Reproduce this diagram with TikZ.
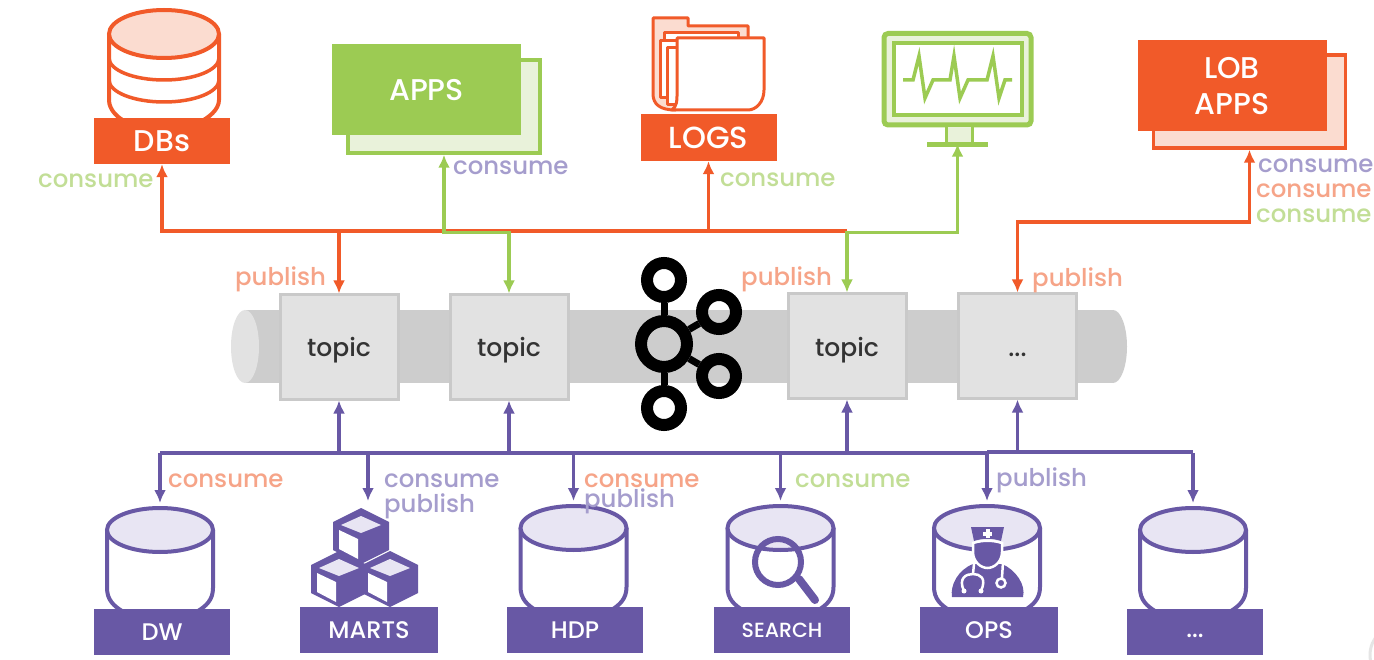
\documentclass[tikz,border=0pt]{standalone}
\usepackage{fontspec}
\setmainfont{Poppins Medium}
\usetikzlibrary{arrows.meta,shapes.geometric}
\definecolor{orangeC}{HTML}{F15A29}
\definecolor{greenC}{HTML}{9CCB53}
\definecolor{purpleC}{HTML}{6858A5}
\definecolor{orangeL}{HTML}{F6A488}
\definecolor{greenL}{HTML}{C2DE96}
\definecolor{purpleL}{HTML}{A59DCD}
\definecolor{orangeF}{HTML}{FBDCD0}
\definecolor{greenF}{HTML}{E9F2DA}
\definecolor{purpleF}{HTML}{E8E5F3}
\definecolor{pipeC}{HTML}{CDCDCD}
\definecolor{topicC}{HTML}{E2E2E2}
\definecolor{topicE}{HTML}{C9C9C9}
\tikzset{
    tag/.style={minimum width=136pt,minimum height=46pt,inner sep=0pt,text=white,font=\fontsize{24}{28}\selectfont},
    sheet/.style={minimum width=189pt,minimum height=91pt,inner sep=0pt,text=white,align=center,font=\fontsize{30}{36}\selectfont},
    backsheet/.style={minimum width=192pt,minimum height=93pt,inner sep=0pt,line width=3.5pt},
    topicbox/.style={fill=topicC,draw=topicE,line width=3pt,minimum width=118pt,minimum height=104pt,inner sep=0pt,text=black!80,text height=24pt,text depth=4pt,font=\fontsize{25}{30}\selectfont},
    lab/.style={anchor=west,inner sep=0pt,font=\fontsize{24.4}{28}\selectfont},
    ring/.style={circle,draw=black,inner sep=0pt,line width=12pt},
    cyltop/.style={ellipse,draw=purpleC,fill=purpleF,line width=4pt,minimum width=106pt,minimum height=44pt,inner sep=0pt},
    oline/.style={draw=orangeC,line width=3.2pt},
    gline/.style={draw=greenC,line width=3.2pt},
    pline/.style={draw=purpleC,line width=3.5pt},
    tip/.style={arrows={-{Latex[length=13pt,width=12pt]}}},
    twotip/.style={arrows={{Latex[length=13pt,width=12pt]}-{Latex[length=13pt,width=12pt]}}},
}
\begin{document}
\begin{tikzpicture}[x=1pt,y=-1pt]
    \useasboundingbox (0,0) rectangle (1374,660);
    \fill[white] (0,0) rectangle (1374,660);
    \begin{scope}
        \clip (0,0) rectangle (1374,660);
        \draw[black!10,line width=3pt] (1400,655) circle (30);
    \end{scope}
    % pipe
    \fill[pipeC] (245,310) rectangle (1113,383);
    \fill[pipeC] (1113,346.5) ellipse (14 and 36.5);
    \fill[topicC] (245,346.5) ellipse (14 and 36.5);
    % topics
    \begin{scope}[every node/.style={topicbox}]
        \node (T1) at (339,347) {topic};
        \node (T2) at (509,347) {topic};
        \node (T3) at (847,346) {topic};
        \node (T4) at (1017.5,346) {...};
    \end{scope}
    % kafka logo
    \node[ring,minimum size=46pt] (hub) at (664,344) {};
    \begin{scope}[every node/.style={ring,minimum size=34pt}]
        \node (K1) at (664,280) {};
        \node (K2) at (719,312) {};
        \node (K3) at (719,376) {};
        \node (K4) at (664,408) {};
    \end{scope}
    \foreach \k in {K1,K2,K3,K4}
        \draw[line width=7pt] (hub) -- (\k);
    % top row
    \draw[orangeC,line width=4pt,fill=white] (109,34) -- (109,100) .. controls (109,110) and (118,118) .. (126,122) -- (200,122) .. controls (208,118) and (219,110) .. (219,100) -- (219,34);
    \draw[orangeC,line width=3.5pt] (109,58) arc[start angle=180,end angle=0,x radius=55,y radius=22];
    \draw[orangeC,line width=3.5pt] (109,80) arc[start angle=180,end angle=0,x radius=55,y radius=22];
    \node[ellipse,draw=orangeC,fill=orangeF,line width=4pt,minimum width=110pt,minimum height=48pt,inner sep=0pt] (DBtop) at (164,34) {};
    \node[tag,fill=orangeC,font=\fontsize{30}{35}\selectfont] (DBs) at (162,141) {DBs};
    \node[backsheet,draw=greenC,fill=greenF] (APPSb) at (444,106.5) {};
    \node[sheet,fill=greenC] (APPS) at (426.5,90) {APPS};
    % folder
    \begin{scope}[draw=orangeC,line width=3pt,line join=round]
        \draw[fill=orangeF] (675,110) .. controls (660,110) and (653,104) .. (653,94) -- (653,18) -- (688,18) -- (688,26) -- (748,26) -- (748,60) -- cycle;
        \draw[fill=white] (664,60) -- (664,33) -- (738,33) -- (738,60) -- cycle;
        \draw[fill=white] (660,98) -- (660,41) -- (680,41) -- (680,98) -- cycle;
        \draw[fill=white] (667,105) -- (667,48) -- (680,48) -- (680,105) -- cycle;
        \draw[fill=white] (677,38) -- (764,38) -- (764,90) .. controls (764,102) and (756,110) .. (748,110) -- (672,110) .. controls (677,106) and (677,100) .. (677,96) -- cycle;
    \end{scope}
    \node[tag,fill=orangeC,minimum height=47pt,font=\fontsize{30.5}{35}\selectfont] (LOGS) at (708.5,137.5) {LOGS};
    % monitor
    \draw[greenC,line width=5pt,rounded corners=4pt,fill=greenF] (884,33.5) rectangle (1031,125);
    \draw[greenC,line width=4.5pt,fill=white] (894,43) rectangle (1022,115);
    \draw[greenC,line width=3pt,fill=greenF] (946,126) rectangle (972,145);
    \node[fill=greenC,minimum width=61pt,minimum height=5pt,inner sep=0pt] (base) at (957.5,145) {};
    \draw[greenC,line width=3.5pt,line join=miter] (903,80) -- (913,80) -- (919,56) -- (925,98) -- (933,80) -- (950,80) -- (954,56) -- (960,98) -- (968,80) -- (987,80) -- (993,56) -- (999,98) -- (1005,80) -- (1012,80);
    \node[backsheet,draw=orangeC,fill=orangeF] (LOBb) at (1249.5,101.5) {};
    \node[sheet,fill=orangeC] (LOB) at (1232,86) {LOB\\APPS};
    % bottom row
    \foreach \nm/\cx/\ct/\cb in {DW/160/508/608,HDP/573.5/506/607,SEARCH/780.5/506/607,OPS/987/506/607,MORE/1193/508/608} {
        \draw[purpleC,line width=4pt,fill=white] (\cx-53,\ct+22) -- (\cx-53,\cb-20) .. controls (\cx-53,\cb-8) and (\cx-46,\cb-2) .. (\cx-38,\cb+3) -- (\cx+38,\cb+3) .. controls (\cx+46,\cb-2) and (\cx+53,\cb-8) .. (\cx+53,\cb-20) -- (\cx+53,\ct+22);
        \node[cyltop] (\nm-top) at (\cx,\ct+22) {};
    }
    \node[tag,fill=purpleC] (DW) at (162,632) {DW};
    \node[tag,fill=purpleC,minimum width=138pt] (MARTS) at (369,630) {MARTS};
    \node[tag,fill=purpleC] (HDP) at (575,630) {HDP};
    \node[tag,fill=purpleC,font=\fontsize{20.5}{24}\selectfont] (SEARCH) at (782,630) {SEARCH};
    \node[tag,fill=purpleC,minimum width=138pt] (OPS) at (989,630) {OPS};
    \node[tag,fill=purpleC,text height=10pt,text depth=0pt] (MORE) at (1195,632) {...};
    % cubes
    \foreach \cx/\cy in {361/508,339/551,390/551} {
        \fill[purpleC] (\cx,\cy) -- (\cx+28,\cy+14) -- (\cx+28,\cy+42) -- (\cx,\cy+56) -- (\cx-28,\cy+42) -- (\cx-28,\cy+14) -- cycle;
        \fill[purpleF] (\cx,\cy+8) -- (\cx+20,\cy+17) -- (\cx,\cy+25) -- (\cx-20,\cy+17) -- cycle;
        \fill[white] (\cx-22,\cy+22) -- (\cx-3,\cy+31) -- (\cx-3,\cy+51) -- (\cx-22,\cy+41) -- cycle;
    }
    % search icon
    \draw[purpleC,line width=6pt] (778,562) ellipse (23 and 23);
    \draw[purpleC,line width=8pt,line cap=round] (799,579) -- (815,600);
    % doctor icon
    \fill[purpleC] (952,597) .. controls (950,585) and (958,570) .. (973,564) -- (1002,564) .. controls (1016,570) and (1026,585) .. (1023,597) -- cycle;
    \fill[purpleC] (971,527) -- (1004,527) -- (1001,541) .. controls (992,538) and (983,538) .. (974,541) -- cycle;
    \fill[white] (985.5,529) rectangle (989.5,538);
    \fill[white] (983,532) rectangle (992,535.5);
    \draw[white,line width=2.5pt,fill=purpleC] (973,543) .. controls (983,540) and (992,540) .. (1002,543) -- (1002,552) .. controls (1002,562) and (994,568) .. (987.5,568) .. controls (981,568) and (973,562) .. (973,552) -- cycle;
    \draw[white,line width=2.5pt] (974,564) -- (973,574);
    \draw[white,line width=2.5pt] (964,591) .. controls (958,578) and (966,574) .. (973,574) .. controls (980,574) and (987,578) .. (981,591);
    \fill[white] (964,591) circle (2.5);
    \fill[white] (981,591) circle (2.5);
    \draw[white,line width=2.5pt] (1003,562) -- (1002,578);
    \draw[white,line width=2.5pt,fill=purpleC] (1001,583) circle (4.5);
    % connectors above the topics
    \coordinate (topbus) at (0,231);
    \coordinate (greenbus) at (0,232.5);
    \coordinate (lobbus) at (0,222);
    \draw[oline,twotip] (DBs.south) |- (T1.north |- topbus) -- (T1.north);
    \draw[oline] (T1.north |- topbus) -- (T3.north |- topbus);
    \draw[oline,tip] (LOGS.south |- topbus) -- (LOGS.south);
    \draw[oline,twotip] (T4.north) |- (LOBb.south |- lobbus) -- (LOBb.south);
    \draw[gline,twotip] (T2.north) -- (T2.north |- greenbus) -| (APPSb.south);
    \draw[gline,twotip] (T3.north) -- (T3.north |- greenbus) -| ([yshift=4pt]base.south);
    % connectors below the topics
    \coordinate (lowbus) at (0,453);
    \coordinate (MARTSin) at (368,501);
    \foreach \t in {T1,T2,T3,T4}
        \draw[pline,tip] (\t.south |- lowbus) -- (\t.south);
    \draw[pline] (DW-top.north |- lowbus) -- (OPS-top.north |- lowbus);
    \draw[pline] (OPS-top.north |- 0,452) -- (MORE-top.north |- 0,452);
    \draw[pline,tip] (MARTSin |- lowbus) -- (MARTSin);
    \foreach \c in {DW,HDP,SEARCH,OPS,MORE}
        \draw[pline,tip,shorten >=3pt] (\c-top.north |- lowbus) -- (\c-top.north);
    % labels
    \begin{scope}[every node/.style={lab}]
        \node[text=greenL] (l1) at (38,181) {consume};
        \node[text=purpleL] (l2) at (453,168) {consume};
        \node[text=orangeL] (l3) at (235,279) {publish};
        \node[text=greenL] (l4) at (720,180) {consume};
        \node[text=orangeL] (l5) at (741,279) {publish};
        \node[text=orangeL] (l6) at (1032,280) {publish};
        \node[text=purpleL] (l7) at (1258,166) {consume};
        \node[text=orangeL] (l8) at (1256,191) {consume};
        \node[text=greenL] (l9) at (1256,216) {consume};
        \node[text=orangeL] (l10) at (168,481) {consume};
        \node[text=purpleL] (l11) at (384,481) {consume};
        \node[text=purpleL] (l12) at (384,506) {publish};
        \node[text=orangeL] (l13) at (584,481) {consume};
        \node[text=purpleL] (l14) at (584,501) {publish};
        \node[text=greenL] (l15) at (795,481) {consume};
        \node[text=purpleL] (l16) at (996,480) {publish};
    \end{scope}
\end{tikzpicture}
\end{document}
